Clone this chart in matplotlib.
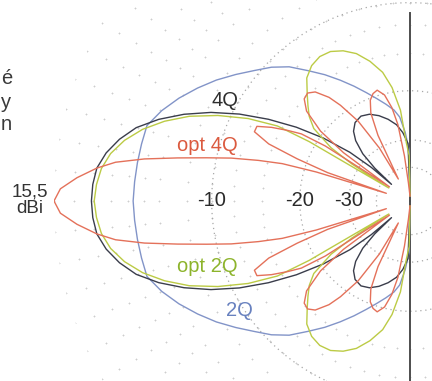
import numpy as np
import matplotlib
matplotlib.use("Agg")
import matplotlib.pyplot as plt

# Gain in dB relative to the 15.5 dBi peak, upper half of each pattern.
# Angles are degrees away from the main-beam direction (0 = boresight, 90 = mast).
ang_2q = [0, 4, 8, 12, 16, 20, 24, 28, 32, 36, 40, 44, 48, 52, 56, 60, 64, 68,
          72, 76, 80, 83, 86, 89, 90]
db_2q = [-4.3, -4.35, -4.4, -4.45, -4.5, -5.1, -5.85, -6.7, -7.6, -8.6, -9.6,
         -10.5, -11.6, -13.1, -14.5, -16.0, -17.5, -19.0, -20.4, -21.7, -23.0,
         -24.5, -28.0, -33.0, -70.0]

ang_4q = [0, 3, 6, 9, 12, 15, 18, 21, 24, 27, 30, 33, 36, 39, 41, 42, 43, 45,
          48, 51, 55, 60, 65, 70, 75, 80, 84, 88, 90]
db_4q = [-1.9, -1.95, -2.1, -2.5, -3.1, -3.9, -5.1, -6.6, -8.4, -10.6, -13.3,
         -16.5, -20.5, -26.0, -33.0, -45.0, -34.0, -28.5, -25.2, -23.5, -22.4,
         -22.0, -22.4, -23.3, -24.5, -26.0, -28.0, -31.0, -70.0]

ang_opt2q = [0, 3, 6, 9, 12, 15, 18, 21, 24, 27, 29.5, 30.5, 31.5, 32.5, 34, 37,
             40, 43, 46, 50, 54, 58, 62, 66, 70, 74, 78, 81, 84, 86.5, 89, 90]
db_opt2q = [-2.05, -2.15, -2.35, -2.75, -3.4, -4.3, -5.5, -7.0, -9.0, -11.5,
            -14.5, -19.0, -45.0, -28.0, -22.5, -18.5, -17.0, -16.0, -15.0, -13.6,
            -12.9, -12.6, -12.7, -13.2, -14.0, -15.3, -17.0, -19.3, -23.2, -31.0,
            -35.0, -70.0]

ang_opt4q = [0, 2, 4, 6, 7.5, 9, 10.5, 12, 13.5, 15, 16.3, 17.2, 18, 19, 20.5,
             22, 24, 26, 28, 30, 31.7, 33, 34.5, 36, 38, 41, 44, 46.5, 49, 52,
             54, 57, 60, 62, 64, 66, 68.5, 71, 73.5, 76.5, 79, 81, 83, 85, 90]
db_opt4q = [0.0, -0.3, -1.1, -2.1, -3.1, -4.8, -7.0, -9.2, -11.3, -14.0, -16.8,
            -22.0, -45.0, -24.0, -18.5, -14.5, -12.6, -12.6, -14.0, -15.8, -17.5,
            -21.5, -45.0, -25.0, -19.5, -16.3, -15.1, -14.9, -15.4, -17.0, -18.8,
            -22.5, -30.0, -45.0, -27.0, -22.3, -20.3, -19.5, -19.2, -20.2, -22.5,
            -26.0, -35.0, -50.0, -70.0]

series = [
    ("2Q", ang_2q, db_2q, "#8294c8"),
    ("4Q", ang_4q, db_4q, "#3a3d4b"),
    ("opt 2Q", ang_opt2q, db_opt2q, "#bccb45"),
    ("opt 4Q", ang_opt4q, db_opt4q, "#e4715a"),
]

# Curve captions: (text, x px, y px, colour)
captions = [
    ("4Q", 225, 100, "#2e2e2e"),
    ("opt 4Q", 207, 145, "#db5a3f"),
    ("opt 2Q", 207, 266, "#8db42c"),
    ("2Q", 239, 310, "#6881bf"),
]

ring_levels = [-10, -20, -30]
ring_labels = ["-10", "-20", "-30"]
peak_label = "15,5\ndBi"

W, H, DPI = 432, 381, 100
CX, CY, R = 410, 201, 356

plt.rcParams["font.family"] = ["Liberation Sans", "DejaVu Sans"]

fig = plt.figure(figsize=(W / DPI, H / DPI), dpi=DPI)
fig.patch.set_facecolor("white")
ax = fig.add_axes([(CX - R) / W, (H - CY - R) / H, 2 * R / W, 2 * R / H],
                  projection="polar")


# ARRL-style log-periodic radial scale: every 2 dB shrinks radius by 0.89
def to_radius(d):
    return np.power(0.89, -np.asarray(d, dtype=float) / 2.0)


def from_radius(r):
    r = np.clip(np.asarray(r, dtype=float), 1e-12, None)
    return -2.0 * np.log(r) / np.log(0.89)


ax.set_rscale("function", functions=(to_radius, from_radius))
ax.set_rlim(-100, 0)
ax.set_theta_zero_location("E")
ax.spines["polar"].set_visible(False)
ax.patch.set_alpha(0)
ax.set_xticks([])
ax.set_rgrids([-40, -30, -20, -10], labels=[""] * 4)
ax.grid(False, axis="x")
ax.grid(True, axis="y", color="#a8a8a8", linestyle=(0, (1, 3)), linewidth=0.9)

# faint dot lattice of the chart paper
lat_ang = np.deg2rad(np.arange(0, 360, 5))
lat_lvl = [0, -1, -2, -3, -4, -5, -6, -8, -10, -12, -15]
tt, rr = np.meshgrid(lat_ang, lat_lvl)
ax.scatter(tt.ravel(), rr.ravel(), s=4, marker="+", color="#cdcdcd",
           linewidths=0.6, zorder=1)

# mast line through the origin
ax.plot([np.pi / 2, np.pi / 2], [-10.9, -100], color="#4d4d4d", lw=1.4, zorder=2)
ax.plot([3 * np.pi / 2, 3 * np.pi / 2], [-100, -3], color="#4d4d4d", lw=1.4,
        zorder=2)

for name, ang, db, col in series:
    phi = np.deg2rad(np.asarray(ang, dtype=float))
    g = np.asarray(db, dtype=float)
    theta = np.concatenate([np.pi - phi[::-1], np.pi + phi[1:]])
    gain = np.concatenate([g[::-1], g[1:]])
    ax.plot(theta, gain, color=col, lw=1.0, zorder=3, solid_joinstyle="round")

for lvl, lab in zip(ring_levels, ring_labels):
    ax.text(np.pi, lvl, lab, ha="center", va="center", fontsize=14.5,
            color="#2a2a2a", zorder=4)

fig.text(30 / W, 1 - 200 / H, peak_label, ha="center", va="center",
         fontsize=13.5, color="#333333", linespacing=0.95)

for text, x, y, col in captions:
    fig.text(x / W, 1 - y / H, text, ha="center", va="center", fontsize=14.5,
             color=col)

for ch, y in [("é", 78), ("y", 102), ("n", 124)]:
    fig.text(1 / W, 1 - y / H, ch, ha="left", va="center", fontsize=14.5,
             color="#3a3a3a")

fig.savefig("out.png", dpi=DPI)
